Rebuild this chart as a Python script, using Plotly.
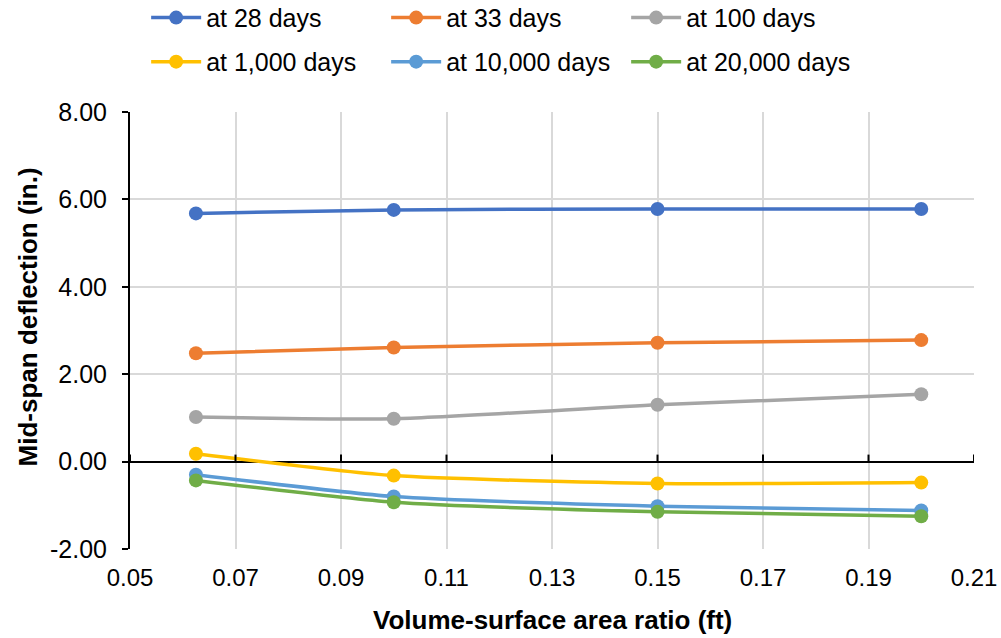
import plotly.graph_objects as go

# volume-surface ratio (ft) and mid-span deflection (in.)
vs_ratio = [0.0625, 0.10, 0.15, 0.20]
at_28 = [5.68, 5.76, 5.78, 5.78]
at_33 = [2.48, 2.61, 2.72, 2.78]
at_100 = [1.02, 0.98, 1.30, 1.54]
at_1000 = [0.18, -0.32, -0.50, -0.48]
at_10000 = [-0.30, -0.80, -1.02, -1.12]
at_20000 = [-0.43, -0.93, -1.15, -1.25]

names = ["at 28 days", "at 33 days", "at 100 days",
         "at 1,000 days", "at 10,000 days", "at 20,000 days"]
series = [at_28, at_33, at_100, at_1000, at_10000, at_20000]
colors = ["#4472C4", "#ED7D31", "#A5A5A5", "#FFC000", "#5B9BD5", "#70AD47"]

x_ticks = [0.05, 0.07, 0.09, 0.11, 0.13, 0.15, 0.17, 0.19, 0.21]
y_ticks = [-2, 0, 2, 4, 6, 8]
y_tick_labels = ["-2.00", "0.00", "2.00", "4.00", "6.00", "8.00"]

fig = go.Figure()
for i, (name, ys, c) in enumerate(zip(names, series, colors)):
    fig.add_trace(go.Scatter(
        x=vs_ratio, y=ys, name=name, mode="lines+markers",
        line=dict(color=c, width=3.5, shape="spline", smoothing=0.6),
        marker=dict(color=c, size=14),
        legend="legend" if i < 3 else "legend2",
    ))

# small tick marks on the x axis line that sits at y = 0
for t in x_ticks:
    fig.add_shape(type="line", xref="x", yref="y", x0=t, x1=t,
                  ysizemode="pixel", yanchor=0, y0=0, y1=7,
                  line=dict(color="black", width=2))

leg = dict(orientation="h", xref="container", yref="container",
           x=0.146, xanchor="left", yanchor="middle",
           font=dict(size=25), entrywidth=175, itemwidth=50,
           bgcolor="rgba(0,0,0,0)")

fig.update_layout(
    width=1001, height=638,
    margin=dict(l=130, r=27, t=112, b=89),
    paper_bgcolor="white", plot_bgcolor="white",
    font=dict(family="Liberation Sans, Arial", size=25, color="black"),
    legend=dict(leg, y=0.972),
    legend2=dict(leg, y=0.903),
    showlegend=True,
)

# axis titles as annotations so their distance from the plot can be set
fig.add_annotation(text="<b>Volume-surface area ratio (ft)</b>",
                   xref="paper", yref="paper", x=0.5, y=0, yshift=-71,
                   xanchor="center", yanchor="middle", showarrow=False,
                   font=dict(size=26))
fig.add_annotation(text="<b>Mid-span deflection (in.)</b>",
                   xref="paper", yref="paper", x=0, y=0.53, xshift=-102,
                   xanchor="center", yanchor="middle", textangle=-90,
                   showarrow=False, font=dict(size=26))

fig.update_xaxes(
    range=[0.05, 0.21], tickvals=x_ticks, tickformat=".2f",
    tickfont=dict(size=24),
    showgrid=True, gridcolor="#D9D9D9", gridwidth=1.5,
    showline=False, zeroline=False, ticks="", ticklabelstandoff=12,
    automargin=False,
)
fig.update_yaxes(
    range=[-2, 8], tickvals=y_ticks, ticktext=y_tick_labels,
    showgrid=True, gridcolor="#D9D9D9", gridwidth=1.5,
    showline=True, linecolor="black", linewidth=2,
    ticks="outside", ticklen=6, tickwidth=2, tickcolor="black",
    ticklabelstandoff=10,
    zeroline=True, zerolinecolor="black", zerolinewidth=2,
    automargin=False,
)

fig.write_html("out.html", config={"displayModeBar": False},
               post_script="document.body.style.margin='0';")
